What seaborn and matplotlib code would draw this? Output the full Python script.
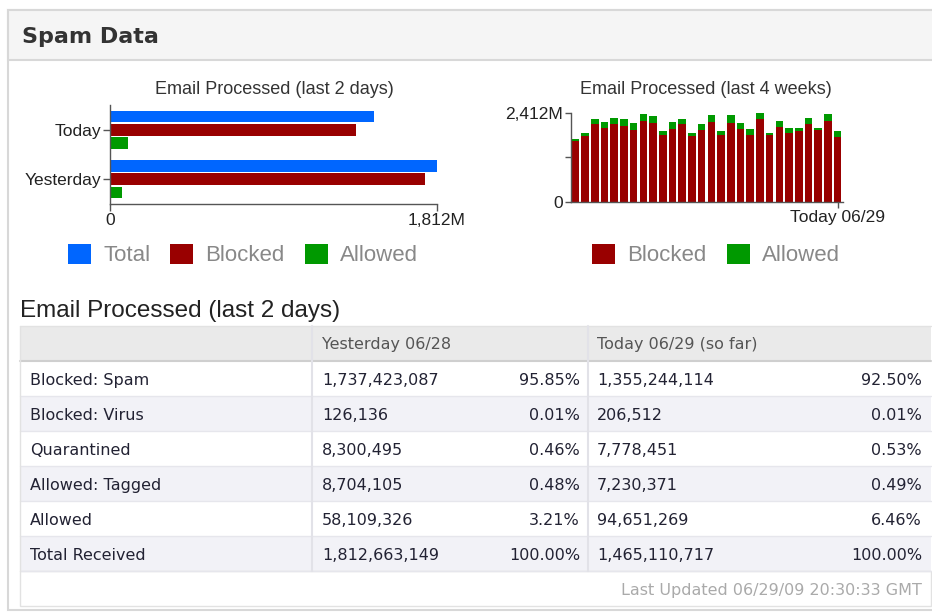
import pandas as pd
import seaborn as sns
import matplotlib.pyplot as plt
from matplotlib.patches import Rectangle, Patch

# ---- data ----
days = ["Today", "Yesterday"]
total_2d = [1465.1, 1812.7]      # millions
blocked_2d = [1363.2, 1745.8]
allowed_2d = [101.9, 66.8]
max_2d = 1812.66

# last 4 weeks (millions)
blocked_4w = [1647, 1784, 2102, 1993, 2102, 2057, 1947, 2193, 2148, 1829, 1984, 2102, 1784, 1938,
              2166, 1829, 2148, 1966, 1829, 2257, 1829, 2038, 1875, 1920, 2120, 1938, 2193, 1765]
total_4w = [1720, 1875, 2257, 2175, 2266, 2239, 2129, 2375, 2330, 1920, 2175, 2257, 1875, 2102,
            2357, 1920, 2348, 2129, 1984, 2405, 1875, 2193, 2011, 2011, 2284, 2011, 2375, 1920]
max_4w = 2412
last_day_label = "Today 06/29"

row_labels = ["Blocked: Spam", "Blocked: Virus", "Quarantined", "Allowed: Tagged", "Allowed", "Total Received"]
yesterday_counts = [1737423087, 126136, 8300495, 8704105, 58109326, 1812663149]
yesterday_pct = [95.85, 0.01, 0.46, 0.48, 3.21, 100.00]
today_counts = [1355244114, 206512, 7778451, 7230371, 94651269, 1465110717]
today_pct = [92.50, 0.01, 0.53, 0.49, 6.46, 100.00]
col_headers = ["", "Yesterday 06/28", "Today 06/29 (so far)"]
updated = "Last Updated 06/29/09 20:30:33 GMT"

BLUE, RED, GREEN = "#0066ff", "#990000", "#009900"

sns.set_theme(style="white")
plt.rcParams["font.family"] = ["Liberation Sans", "DejaVu Sans"]

W, H = 932, 614
fig = plt.figure(figsize=(W / 100, H / 100), dpi=100)


def px_rect(x0, y0, x1, y1):
    return [x0 / W, 1 - y1 / H, (x1 - x0) / W, (y1 - y0) / H]


# background axes in pixel coords
bg = fig.add_axes([0, 0, 1, 1])
bg.set_xlim(0, W)
bg.set_ylim(H, 0)
bg.axis("off")

# panel + header band
bg.add_patch(Rectangle((8, 10), 940, 600, facecolor="white", edgecolor="#d8d8d8", lw=1.5))
bg.add_patch(Rectangle((8, 10), 940, 50, facecolor="#f5f5f5", edgecolor="#d8d8d8", lw=1.5))
bg.text(22, 37, "Spam Data", fontsize=16, fontweight="bold", color="#333333",
        family="DejaVu Sans", va="center", ha="left")

# chart titles
bg.text(274, 89, "Email Processed (last 2 days)", fontsize=13, color="#333333", ha="center", va="center")
bg.text(706, 89, "Email Processed (last 4 weeks)", fontsize=13, color="#333333", ha="center", va="center")

# ---- left chart: last 2 days ----
ax1 = fig.add_axes(px_rect(110, 105, 436.7, 204))
ax1.patch.set_alpha(0)
df2 = pd.DataFrame({
    "day": days * 3,
    "series": ["Total"] * 2 + ["Blocked"] * 2 + ["Allowed"] * 2,
    "value": total_2d + blocked_2d + allowed_2d,
})
sns.barplot(data=df2, y="day", x="value", hue="series", orient="h",
            palette={"Total": BLUE, "Blocked": RED, "Allowed": GREEN}, saturation=1,
            width=0.8, gap=0.1, linewidth=0, legend=False, ax=ax1)
ax1.set_xlim(0, max_2d)
ax1.set_xticks([0, max_2d])
ax1.set_xticklabels(["0", "1,812M"])
ax1.set_xlabel("")
ax1.set_ylabel("")
for s in ["top", "right"]:
    ax1.spines[s].set_visible(False)
for s in ["left", "bottom"]:
    ax1.spines[s].set_color("#555555")
    ax1.spines[s].set_linewidth(1)
ax1.tick_params(axis="both", length=5, width=1, color="#555555", labelsize=12.5,
                labelcolor="#222222", pad=1.5, left=True, bottom=True)

ax1.legend(handles=[Patch(facecolor=BLUE, edgecolor="none", label="Total"),
                    Patch(facecolor=RED, edgecolor="none", label="Blocked"),
                    Patch(facecolor=GREEN, edgecolor="none", label="Allowed")],
           loc="center", bbox_to_anchor=(243 / W, 1 - 255 / H), bbox_transform=fig.transFigure,
           ncol=3, frameon=False, fontsize=16, labelcolor="#888888",
           handlelength=1.03, handleheight=1.03, handletextpad=0.55, columnspacing=0.9)

# ---- right chart: last 4 weeks ----
ax2 = fig.add_axes(px_rect(570.5, 113, 842.5, 202))
ax2.patch.set_alpha(0)
idx = list(range(len(total_4w)))
sns.barplot(x=idx, y=total_4w, color=GREEN, saturation=1, width=0.78, linewidth=0, ax=ax2)
sns.barplot(x=idx, y=blocked_4w, color=RED, saturation=1, width=0.78, linewidth=0, ax=ax2)
ax2.set_ylim(0, max_4w)
ax2.set_yticks([0, max_4w / 2, max_4w])
ax2.set_yticklabels(["0", "", "2,412M"])
ax2.set_xticks([len(idx) - 1])
ax2.set_xticklabels([last_day_label])
for s in ["top", "right"]:
    ax2.spines[s].set_visible(False)
for s in ["left", "bottom"]:
    ax2.spines[s].set_color("#555555")
    ax2.spines[s].set_linewidth(1)
ax2.tick_params(axis="both", length=4, width=1, color="#555555", labelsize=12.5,
                labelcolor="#222222", pad=1.5, left=True, bottom=True)

ax2.legend(handles=[Patch(facecolor=RED, edgecolor="none", label="Blocked"),
                    Patch(facecolor=GREEN, edgecolor="none", label="Allowed")],
           loc="center", bbox_to_anchor=(716 / W, 1 - 255 / H), bbox_transform=fig.transFigure,
           ncol=2, frameon=False, fontsize=16, labelcolor="#888888",
           handlelength=1.03, handleheight=1.03, handletextpad=0.55, columnspacing=0.9)

# ---- table ----
bg.text(20, 311, "Email Processed (last 2 days)", fontsize=17.5, color="#222222", va="center", ha="left")

TX0, C1, C2, TX1 = 20, 312, 588, 931
ROW_H = 35
top = 326
tfont = dict(family="DejaVu Sans", fontsize=11.5, va="center")

# header
for x0, x1 in [(TX0, C1), (C1, C2), (C2, TX1)]:
    bg.add_patch(Rectangle((x0, top), x1 - x0, ROW_H, facecolor="#eaeaea", edgecolor="none"))
bg.plot([TX0, TX1], [top + ROW_H, top + ROW_H], color="#cfcfcf", lw=1.5)
bg.plot([TX0, TX1], [top, top], color="#e2e2e2", lw=1)
bg.text(C1 + 10, top + ROW_H / 2 + 1, col_headers[1], color="#555555", **tfont)
bg.text(C2 + 9, top + ROW_H / 2 + 1, col_headers[2], color="#555555", **tfont)

for i, lab in enumerate(row_labels):
    y0 = top + ROW_H * (i + 1)
    shade = "#f2f2f7" if i % 2 == 1 else "white"
    bg.add_patch(Rectangle((TX0, y0), TX1 - TX0, ROW_H, facecolor=shade, edgecolor="none"))
    bg.plot([TX0, TX1], [y0 + ROW_H, y0 + ROW_H], color="#e6e6ec", lw=1)
    yc = y0 + ROW_H / 2 + 2
    bg.text(30, yc, lab, color="#222233", ha="left", **tfont)
    bg.text(C1 + 10, yc, f"{yesterday_counts[i]:,}", color="#222233", ha="left", **tfont)
    bg.text(C2 - 8, yc, f"{yesterday_pct[i]:.2f}%", color="#222233", ha="right", **tfont)
    bg.text(C2 + 9, yc, f"{today_counts[i]:,}", color="#222233", ha="left", **tfont)
    bg.text(TX1 - 9, yc, f"{today_pct[i]:.2f}%", color="#222233", ha="right", **tfont)

body_bottom = top + ROW_H * (len(row_labels) + 1)
for x in [C1, C2]:
    bg.plot([x, x], [top, body_bottom], color="#e2e2e8", lw=1.5)

# footer row
bg.add_patch(Rectangle((TX0, body_bottom), TX1 - TX0, ROW_H, facecolor="white", edgecolor="#e2e2e2", lw=1))
bg.text(TX1 - 9, body_bottom + ROW_H / 2 + 2, updated, color="#aaaaaa", ha="right", **tfont)
bg.plot([TX0, TX0], [top, body_bottom], color="#e2e2e2", lw=1)

fig.savefig("out.png", dpi=100)
